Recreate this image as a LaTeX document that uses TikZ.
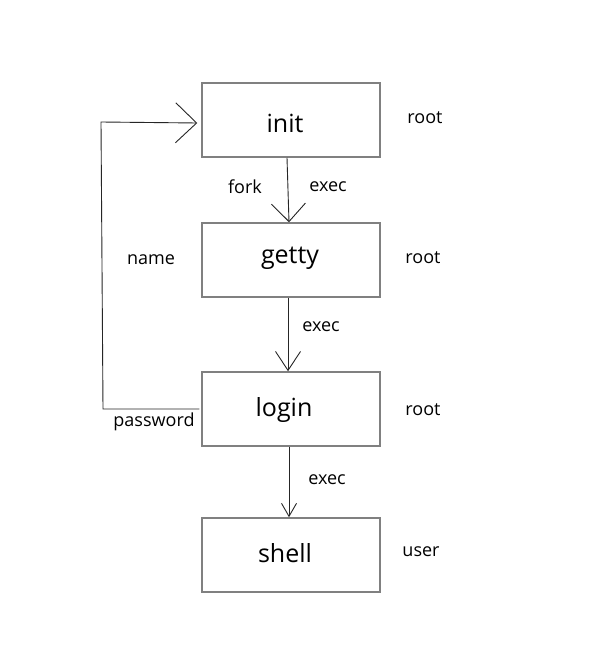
\documentclass[tikz,border=0pt]{standalone}
\usepackage{fontspec}
\setmainfont{Open Sans}
\usetikzlibrary{arrows.meta,calc}
\begin{document}
\begin{tikzpicture}[x=1pt,y=-1pt,
  procbox/.style={draw=boxgray,line width=1.5pt,minimum width=178pt,minimum height=74pt,inner sep=0pt},
  ttl/.style={font=\fontsize{25}{27}\selectfont,inner sep=0pt},
  lbl/.style={font=\fontsize{18}{20}\selectfont,inner sep=0pt},
  conn/.style={line width=0.9pt,draw=black!85}]
\definecolor{boxgray}{HTML}{808080}
\useasboundingbox (0,0) rectangle (600,650);
\fill[white] (0,0) rectangle (600,650);
\node[procbox] (init) at (291,120) {};
\node[procbox] (getty) at (291,260) {};
\node[procbox] (login) at (291,409) {};
\node[procbox] (shell) at (291,555) {};
\node[ttl] (tinit) at (285,123) {init};
\node[ttl] (tgetty) at (290,258) {getty};
\node[ttl] (tlogin) at (284,410) {login};
\node[ttl] (tshell) at (285,553) {shell};
\node[lbl] (r1) at (425,118) {root};
\node[lbl] (r2) at (423,258) {root};
\node[lbl] (r3) at (423,410) {root};
\node[lbl] (u4) at (421,552) {user};
\node[lbl] (fork) at (245,187) {fork};
\node[lbl] (e1) at (328,187) {exec};
\node[lbl] (e2) at (321,327) {exec};
\node[lbl] (e3) at (327,480) {exec};
\node[lbl] (name) at (151,260) {name};
\node[lbl] (pw) at (154,422) {password};
\coordinate (c1) at (103,409);
\coordinate (c2) at (101,122);
\draw[conn,-{Straight Barb[length=21pt,width=40pt,line width=0.9pt]}]
  ($(login.west)+(-2,0)$) -- (c1) -- (c2) -- ($(init.west)+(-4,3)$);
\draw[conn,-{Straight Barb[length=18pt,width=34pt,line width=0.9pt]}]
  ($(init.south)+(-4,0)$) -- ($(getty.north)+(-2,0)$);
\draw[conn,-{Straight Barb[length=19pt,width=25pt,line width=0.9pt]}]
  ($(getty.south)+(-3,0)$) -- ($(login.north)+(-3,0)$);
\draw[conn,-{Straight Barb[length=13pt,width=15pt,line width=0.9pt]}]
  ($(login.south)+(-2,0)$) -- ($(shell.north)+(-2,0)$);
\end{tikzpicture}
\end{document}
